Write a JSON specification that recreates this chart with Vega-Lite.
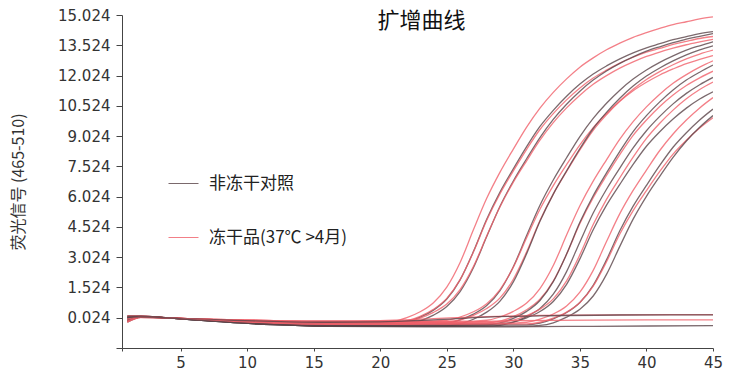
{
"$schema": "https://vega.github.io/schema/vega-lite/v6.json",
"width": 591, "height": 333,
"autosize": {"type": "none"},
"padding": {"left": 122, "top": 15, "right": 18, "bottom": 26},
"background": "white",
"title": {"text": "扩增曲线", "font": "Noto Sans CJK SC", "fontSize": 22, "fontWeight": "normal", "color": "#111", "anchor": "middle", "offset": -25, "dx": 4},
"data": {"values": [
{"id":"A1","g":"f","c":1,"v":-0.15},{"id":"A1","g":"f","c":2,"v":0.06},{"id":"A1","g":"f","c":4,"v":0.02},{"id":"A1","g":"f","c":6,"v":-0.04},{"id":"A1","g":"f","c":9,"v":-0.11},{"id":"A1","g":"f","c":12,"v":-0.16},{"id":"A1","g":"f","c":16,"v":-0.2},{"id":"A1","g":"f","c":20,"v":-0.19},{"id":"A1","g":"f","c":21,"v":-0.15},{"id":"A1","g":"f","c":22,"v":0.03},{"id":"A1","g":"f","c":23,"v":0.32},{"id":"A1","g":"f","c":24,"v":0.77},{"id":"A1","g":"f","c":25,"v":1.54},{"id":"A1","g":"f","c":26,"v":2.76},{"id":"A1","g":"f","c":27,"v":4.38},{"id":"A1","g":"f","c":28,"v":5.94},{"id":"A1","g":"f","c":29,"v":7.24},{"id":"A1","g":"f","c":30,"v":8.38},{"id":"A1","g":"f","c":31,"v":9.47},{"id":"A1","g":"f","c":32,"v":10.41},{"id":"A1","g":"f","c":33,"v":11.19},{"id":"A1","g":"f","c":34,"v":11.86},{"id":"A1","g":"f","c":35,"v":12.44},{"id":"A1","g":"f","c":36,"v":12.9},{"id":"A1","g":"f","c":37,"v":13.3},{"id":"A1","g":"f","c":38,"v":13.63},{"id":"A1","g":"f","c":39,"v":13.92},{"id":"A1","g":"f","c":40,"v":14.15},{"id":"A1","g":"f","c":41,"v":14.36},{"id":"A1","g":"f","c":42,"v":14.55},{"id":"A1","g":"f","c":43,"v":14.69},{"id":"A1","g":"f","c":44,"v":14.83},{"id":"A1","g":"f","c":45,"v":14.93},
{"id":"A2","g":"n","c":1,"v":0.1},{"id":"A2","g":"n","c":2,"v":0.1},{"id":"A2","g":"n","c":4,"v":0.02},{"id":"A2","g":"n","c":6,"v":-0.06},{"id":"A2","g":"n","c":9,"v":-0.17},{"id":"A2","g":"n","c":12,"v":-0.24},{"id":"A2","g":"n","c":16,"v":-0.3},{"id":"A2","g":"n","c":20,"v":-0.3},{"id":"A2","g":"n","c":21,"v":-0.28},{"id":"A2","g":"n","c":22,"v":-0.18},{"id":"A2","g":"n","c":23,"v":0.05},{"id":"A2","g":"n","c":24,"v":0.4},{"id":"A2","g":"n","c":25,"v":0.95},{"id":"A2","g":"n","c":26,"v":1.9},{"id":"A2","g":"n","c":27,"v":3.3},{"id":"A2","g":"n","c":28,"v":4.9},{"id":"A2","g":"n","c":29,"v":6.25},{"id":"A2","g":"n","c":30,"v":7.4},{"id":"A2","g":"n","c":31,"v":8.5},{"id":"A2","g":"n","c":32,"v":9.5},{"id":"A2","g":"n","c":33,"v":10.3},{"id":"A2","g":"n","c":34,"v":11.0},{"id":"A2","g":"n","c":35,"v":11.6},{"id":"A2","g":"n","c":36,"v":12.1},{"id":"A2","g":"n","c":37,"v":12.5},{"id":"A2","g":"n","c":38,"v":12.85},{"id":"A2","g":"n","c":39,"v":13.15},{"id":"A2","g":"n","c":40,"v":13.4},{"id":"A2","g":"n","c":41,"v":13.6},{"id":"A2","g":"n","c":42,"v":13.8},{"id":"A2","g":"n","c":43,"v":13.95},{"id":"A2","g":"n","c":44,"v":14.1},{"id":"A2","g":"n","c":45,"v":14.2},
{"id":"A3","g":"f","c":1,"v":-0.05},{"id":"A3","g":"f","c":2,"v":0.08},{"id":"A3","g":"f","c":4,"v":0.02},{"id":"A3","g":"f","c":6,"v":-0.05},{"id":"A3","g":"f","c":9,"v":-0.14},{"id":"A3","g":"f","c":12,"v":-0.2},{"id":"A3","g":"f","c":16,"v":-0.25},{"id":"A3","g":"f","c":20,"v":-0.25},{"id":"A3","g":"f","c":21,"v":-0.23},{"id":"A3","g":"f","c":22,"v":-0.13},{"id":"A3","g":"f","c":23,"v":0.09},{"id":"A3","g":"f","c":24,"v":0.44},{"id":"A3","g":"f","c":25,"v":0.98},{"id":"A3","g":"f","c":26,"v":1.91},{"id":"A3","g":"f","c":27,"v":3.28},{"id":"A3","g":"f","c":28,"v":4.85},{"id":"A3","g":"f","c":29,"v":6.17},{"id":"A3","g":"f","c":30,"v":7.3},{"id":"A3","g":"f","c":31,"v":8.37},{"id":"A3","g":"f","c":32,"v":9.35},{"id":"A3","g":"f","c":33,"v":10.14},{"id":"A3","g":"f","c":34,"v":10.82},{"id":"A3","g":"f","c":35,"v":11.41},{"id":"A3","g":"f","c":36,"v":11.9},{"id":"A3","g":"f","c":37,"v":12.29},{"id":"A3","g":"f","c":38,"v":12.64},{"id":"A3","g":"f","c":39,"v":12.93},{"id":"A3","g":"f","c":40,"v":13.18},{"id":"A3","g":"f","c":41,"v":13.37},{"id":"A3","g":"f","c":42,"v":13.57},{"id":"A3","g":"f","c":43,"v":13.72},{"id":"A3","g":"f","c":44,"v":13.86},{"id":"A3","g":"f","c":45,"v":13.96},
{"id":"A4","g":"n","c":1,"v":-0.2},{"id":"A4","g":"n","c":2,"v":0.04},{"id":"A4","g":"n","c":4,"v":0.02},{"id":"A4","g":"n","c":6,"v":-0.07},{"id":"A4","g":"n","c":9,"v":-0.19},{"id":"A4","g":"n","c":12,"v":-0.28},{"id":"A4","g":"n","c":16,"v":-0.35},{"id":"A4","g":"n","c":20,"v":-0.35},{"id":"A4","g":"n","c":21,"v":-0.34},{"id":"A4","g":"n","c":22,"v":-0.3},{"id":"A4","g":"n","c":23,"v":-0.13},{"id":"A4","g":"n","c":24,"v":0.15},{"id":"A4","g":"n","c":25,"v":0.58},{"id":"A4","g":"n","c":26,"v":1.32},{"id":"A4","g":"n","c":27,"v":2.5},{"id":"A4","g":"n","c":28,"v":4.05},{"id":"A4","g":"n","c":29,"v":5.55},{"id":"A4","g":"n","c":30,"v":6.8},{"id":"A4","g":"n","c":31,"v":7.9},{"id":"A4","g":"n","c":32,"v":8.95},{"id":"A4","g":"n","c":33,"v":9.85},{"id":"A4","g":"n","c":34,"v":10.6},{"id":"A4","g":"n","c":35,"v":11.25},{"id":"A4","g":"n","c":36,"v":11.8},{"id":"A4","g":"n","c":37,"v":12.25},{"id":"A4","g":"n","c":38,"v":12.63},{"id":"A4","g":"n","c":39,"v":12.95},{"id":"A4","g":"n","c":40,"v":13.23},{"id":"A4","g":"n","c":41,"v":13.45},{"id":"A4","g":"n","c":42,"v":13.65},{"id":"A4","g":"n","c":43,"v":13.83},{"id":"A4","g":"n","c":44,"v":13.97},{"id":"A4","g":"n","c":45,"v":14.1},
{"id":"A5","g":"f","c":1,"v":0.05},{"id":"A5","g":"f","c":2,"v":0.09},{"id":"A5","g":"f","c":4,"v":0.02},{"id":"A5","g":"f","c":6,"v":-0.04},{"id":"A5","g":"f","c":9,"v":-0.11},{"id":"A5","g":"f","c":12,"v":-0.16},{"id":"A5","g":"f","c":16,"v":-0.2},{"id":"A5","g":"f","c":20,"v":-0.2},{"id":"A5","g":"f","c":21,"v":-0.19},{"id":"A5","g":"f","c":22,"v":-0.15},{"id":"A5","g":"f","c":23,"v":0.01},{"id":"A5","g":"f","c":24,"v":0.29},{"id":"A5","g":"f","c":25,"v":0.7},{"id":"A5","g":"f","c":26,"v":1.42},{"id":"A5","g":"f","c":27,"v":2.56},{"id":"A5","g":"f","c":28,"v":4.07},{"id":"A5","g":"f","c":29,"v":5.52},{"id":"A5","g":"f","c":30,"v":6.74},{"id":"A5","g":"f","c":31,"v":7.8},{"id":"A5","g":"f","c":32,"v":8.82},{"id":"A5","g":"f","c":33,"v":9.69},{"id":"A5","g":"f","c":34,"v":10.42},{"id":"A5","g":"f","c":35,"v":11.05},{"id":"A5","g":"f","c":36,"v":11.59},{"id":"A5","g":"f","c":37,"v":12.02},{"id":"A5","g":"f","c":38,"v":12.39},{"id":"A5","g":"f","c":39,"v":12.7},{"id":"A5","g":"f","c":40,"v":12.97},{"id":"A5","g":"f","c":41,"v":13.19},{"id":"A5","g":"f","c":42,"v":13.38},{"id":"A5","g":"f","c":43,"v":13.55},{"id":"A5","g":"f","c":44,"v":13.69},{"id":"A5","g":"f","c":45,"v":13.82},
{"id":"B1","g":"n","c":1,"v":-0.1},{"id":"B1","g":"n","c":2,"v":0.07},{"id":"B1","g":"n","c":4,"v":0.02},{"id":"B1","g":"n","c":6,"v":-0.06},{"id":"B1","g":"n","c":9,"v":-0.17},{"id":"B1","g":"n","c":12,"v":-0.24},{"id":"B1","g":"n","c":16,"v":-0.3},{"id":"B1","g":"n","c":20,"v":-0.3},{"id":"B1","g":"n","c":24,"v":-0.29},{"id":"B1","g":"n","c":25,"v":-0.25},{"id":"B1","g":"n","c":26,"v":-0.08},{"id":"B1","g":"n","c":27,"v":0.2},{"id":"B1","g":"n","c":28,"v":0.63},{"id":"B1","g":"n","c":29,"v":1.37},{"id":"B1","g":"n","c":30,"v":2.55},{"id":"B1","g":"n","c":31,"v":4.1},{"id":"B1","g":"n","c":32,"v":5.6},{"id":"B1","g":"n","c":33,"v":6.85},{"id":"B1","g":"n","c":34,"v":7.95},{"id":"B1","g":"n","c":35,"v":9.0},{"id":"B1","g":"n","c":36,"v":9.9},{"id":"B1","g":"n","c":37,"v":10.65},{"id":"B1","g":"n","c":38,"v":11.3},{"id":"B1","g":"n","c":39,"v":11.85},{"id":"B1","g":"n","c":40,"v":12.3},{"id":"B1","g":"n","c":41,"v":12.68},{"id":"B1","g":"n","c":42,"v":13.0},{"id":"B1","g":"n","c":43,"v":13.28},{"id":"B1","g":"n","c":44,"v":13.5},{"id":"B1","g":"n","c":45,"v":13.7},
{"id":"B2","g":"f","c":1,"v":0.12},{"id":"B2","g":"f","c":2,"v":0.1},{"id":"B2","g":"f","c":4,"v":0.02},{"id":"B2","g":"f","c":6,"v":-0.04},{"id":"B2","g":"f","c":9,"v":-0.11},{"id":"B2","g":"f","c":12,"v":-0.16},{"id":"B2","g":"f","c":16,"v":-0.2},{"id":"B2","g":"f","c":20,"v":-0.2},{"id":"B2","g":"f","c":24,"v":-0.2},{"id":"B2","g":"f","c":25,"v":-0.18},{"id":"B2","g":"f","c":26,"v":-0.08},{"id":"B2","g":"f","c":27,"v":0.14},{"id":"B2","g":"f","c":28,"v":0.48},{"id":"B2","g":"f","c":29,"v":1.01},{"id":"B2","g":"f","c":30,"v":1.93},{"id":"B2","g":"f","c":31,"v":3.29},{"id":"B2","g":"f","c":32,"v":4.84},{"id":"B2","g":"f","c":33,"v":6.15},{"id":"B2","g":"f","c":34,"v":7.27},{"id":"B2","g":"f","c":35,"v":8.34},{"id":"B2","g":"f","c":36,"v":9.31},{"id":"B2","g":"f","c":37,"v":10.08},{"id":"B2","g":"f","c":38,"v":10.76},{"id":"B2","g":"f","c":39,"v":11.34},{"id":"B2","g":"f","c":40,"v":11.83},{"id":"B2","g":"f","c":41,"v":12.22},{"id":"B2","g":"f","c":42,"v":12.56},{"id":"B2","g":"f","c":43,"v":12.85},{"id":"B2","g":"f","c":44,"v":13.09},{"id":"B2","g":"f","c":45,"v":13.28},
{"id":"B3","g":"f","c":1,"v":-0.12},{"id":"B3","g":"f","c":2,"v":0.05},{"id":"B3","g":"f","c":4,"v":0.02},{"id":"B3","g":"f","c":6,"v":-0.03},{"id":"B3","g":"f","c":9,"v":-0.08},{"id":"B3","g":"f","c":12,"v":-0.12},{"id":"B3","g":"f","c":16,"v":-0.15},{"id":"B3","g":"f","c":20,"v":-0.15},{"id":"B3","g":"f","c":24,"v":-0.14},{"id":"B3","g":"f","c":25,"v":-0.1},{"id":"B3","g":"f","c":26,"v":0.06},{"id":"B3","g":"f","c":27,"v":0.32},{"id":"B3","g":"f","c":28,"v":0.72},{"id":"B3","g":"f","c":29,"v":1.42},{"id":"B3","g":"f","c":30,"v":2.53},{"id":"B3","g":"f","c":31,"v":3.99},{"id":"B3","g":"f","c":32,"v":5.4},{"id":"B3","g":"f","c":33,"v":6.57},{"id":"B3","g":"f","c":34,"v":7.61},{"id":"B3","g":"f","c":35,"v":8.59},{"id":"B3","g":"f","c":36,"v":9.44},{"id":"B3","g":"f","c":37,"v":10.14},{"id":"B3","g":"f","c":38,"v":10.75},{"id":"B3","g":"f","c":39,"v":11.27},{"id":"B3","g":"f","c":40,"v":11.69},{"id":"B3","g":"f","c":41,"v":12.05},{"id":"B3","g":"f","c":42,"v":12.35},{"id":"B3","g":"f","c":43,"v":12.62},{"id":"B3","g":"f","c":44,"v":12.82},{"id":"B3","g":"f","c":45,"v":13.01},
{"id":"B4","g":"n","c":1,"v":0.0},{"id":"B4","g":"n","c":2,"v":0.06},{"id":"B4","g":"n","c":4,"v":0.02},{"id":"B4","g":"n","c":6,"v":-0.08},{"id":"B4","g":"n","c":9,"v":-0.22},{"id":"B4","g":"n","c":12,"v":-0.32},{"id":"B4","g":"n","c":16,"v":-0.4},{"id":"B4","g":"n","c":20,"v":-0.4},{"id":"B4","g":"n","c":24,"v":-0.4},{"id":"B4","g":"n","c":25,"v":-0.38},{"id":"B4","g":"n","c":26,"v":-0.28},{"id":"B4","g":"n","c":27,"v":-0.05},{"id":"B4","g":"n","c":28,"v":0.3},{"id":"B4","g":"n","c":29,"v":0.85},{"id":"B4","g":"n","c":30,"v":1.8},{"id":"B4","g":"n","c":31,"v":3.2},{"id":"B4","g":"n","c":32,"v":4.8},{"id":"B4","g":"n","c":33,"v":6.15},{"id":"B4","g":"n","c":34,"v":7.3},{"id":"B4","g":"n","c":35,"v":8.4},{"id":"B4","g":"n","c":36,"v":9.4},{"id":"B4","g":"n","c":37,"v":10.2},{"id":"B4","g":"n","c":38,"v":10.9},{"id":"B4","g":"n","c":39,"v":11.5},{"id":"B4","g":"n","c":40,"v":12.0},{"id":"B4","g":"n","c":41,"v":12.4},{"id":"B4","g":"n","c":42,"v":12.75},{"id":"B4","g":"n","c":43,"v":13.05},{"id":"B4","g":"n","c":44,"v":13.3},{"id":"B4","g":"n","c":45,"v":13.5},
{"id":"C1","g":"f","c":1,"v":0.08},{"id":"C1","g":"f","c":2,"v":0.1},{"id":"C1","g":"f","c":4,"v":0.02},{"id":"C1","g":"f","c":6,"v":-0.03},{"id":"C1","g":"f","c":9,"v":-0.08},{"id":"C1","g":"f","c":12,"v":-0.12},{"id":"C1","g":"f","c":16,"v":-0.15},{"id":"C1","g":"f","c":20,"v":-0.15},{"id":"C1","g":"f","c":24,"v":-0.15},{"id":"C1","g":"f","c":27,"v":-0.14},{"id":"C1","g":"f","c":28,"v":-0.1},{"id":"C1","g":"f","c":29,"v":0.06},{"id":"C1","g":"f","c":30,"v":0.34},{"id":"C1","g":"f","c":31,"v":0.75},{"id":"C1","g":"f","c":32,"v":1.47},{"id":"C1","g":"f","c":33,"v":2.61},{"id":"C1","g":"f","c":34,"v":4.12},{"id":"C1","g":"f","c":35,"v":5.57},{"id":"C1","g":"f","c":36,"v":6.79},{"id":"C1","g":"f","c":37,"v":7.85},{"id":"C1","g":"f","c":38,"v":8.87},{"id":"C1","g":"f","c":39,"v":9.74},{"id":"C1","g":"f","c":40,"v":10.47},{"id":"C1","g":"f","c":41,"v":11.1},{"id":"C1","g":"f","c":42,"v":11.64},{"id":"C1","g":"f","c":43,"v":12.07},{"id":"C1","g":"f","c":44,"v":12.44},{"id":"C1","g":"f","c":45,"v":12.75},
{"id":"C2","g":"f","c":1,"v":-0.18},{"id":"C2","g":"f","c":2,"v":0.04},{"id":"C2","g":"f","c":4,"v":0.02},{"id":"C2","g":"f","c":6,"v":-0.05},{"id":"C2","g":"f","c":9,"v":-0.14},{"id":"C2","g":"f","c":12,"v":-0.2},{"id":"C2","g":"f","c":16,"v":-0.25},{"id":"C2","g":"f","c":20,"v":-0.25},{"id":"C2","g":"f","c":24,"v":-0.25},{"id":"C2","g":"f","c":28,"v":-0.23},{"id":"C2","g":"f","c":29,"v":-0.14},{"id":"C2","g":"f","c":30,"v":0.08},{"id":"C2","g":"f","c":31,"v":0.42},{"id":"C2","g":"f","c":32,"v":0.94},{"id":"C2","g":"f","c":33,"v":1.84},{"id":"C2","g":"f","c":34,"v":3.17},{"id":"C2","g":"f","c":35,"v":4.69},{"id":"C2","g":"f","c":36,"v":5.97},{"id":"C2","g":"f","c":37,"v":7.07},{"id":"C2","g":"f","c":38,"v":8.11},{"id":"C2","g":"f","c":39,"v":9.06},{"id":"C2","g":"f","c":40,"v":9.82},{"id":"C2","g":"f","c":41,"v":10.49},{"id":"C2","g":"f","c":42,"v":11.06},{"id":"C2","g":"f","c":43,"v":11.53},{"id":"C2","g":"f","c":44,"v":11.91},{"id":"C2","g":"f","c":45,"v":12.24},
{"id":"C3","g":"n","c":1,"v":0.05},{"id":"C3","g":"n","c":2,"v":0.08},{"id":"C3","g":"n","c":4,"v":0.02},{"id":"C3","g":"n","c":6,"v":-0.07},{"id":"C3","g":"n","c":9,"v":-0.19},{"id":"C3","g":"n","c":12,"v":-0.28},{"id":"C3","g":"n","c":16,"v":-0.35},{"id":"C3","g":"n","c":20,"v":-0.35},{"id":"C3","g":"n","c":24,"v":-0.35},{"id":"C3","g":"n","c":28,"v":-0.33},{"id":"C3","g":"n","c":29,"v":-0.23},{"id":"C3","g":"n","c":30,"v":-0.01},{"id":"C3","g":"n","c":31,"v":0.34},{"id":"C3","g":"n","c":32,"v":0.88},{"id":"C3","g":"n","c":33,"v":1.81},{"id":"C3","g":"n","c":34,"v":3.18},{"id":"C3","g":"n","c":35,"v":4.75},{"id":"C3","g":"n","c":36,"v":6.07},{"id":"C3","g":"n","c":37,"v":7.2},{"id":"C3","g":"n","c":38,"v":8.27},{"id":"C3","g":"n","c":39,"v":9.25},{"id":"C3","g":"n","c":40,"v":10.04},{"id":"C3","g":"n","c":41,"v":10.72},{"id":"C3","g":"n","c":42,"v":11.31},{"id":"C3","g":"n","c":43,"v":11.8},{"id":"C3","g":"n","c":44,"v":12.19},{"id":"C3","g":"n","c":45,"v":12.54},
{"id":"C4","g":"n","c":1,"v":-0.15},{"id":"C4","g":"n","c":2,"v":0.05},{"id":"C4","g":"n","c":4,"v":0.02},{"id":"C4","g":"n","c":6,"v":-0.08},{"id":"C4","g":"n","c":9,"v":-0.22},{"id":"C4","g":"n","c":12,"v":-0.32},{"id":"C4","g":"n","c":16,"v":-0.4},{"id":"C4","g":"n","c":20,"v":-0.4},{"id":"C4","g":"n","c":24,"v":-0.4},{"id":"C4","g":"n","c":28,"v":-0.39},{"id":"C4","g":"n","c":29,"v":-0.35},{"id":"C4","g":"n","c":30,"v":-0.19},{"id":"C4","g":"n","c":31,"v":0.08},{"id":"C4","g":"n","c":32,"v":0.48},{"id":"C4","g":"n","c":33,"v":1.19},{"id":"C4","g":"n","c":34,"v":2.31},{"id":"C4","g":"n","c":35,"v":3.78},{"id":"C4","g":"n","c":36,"v":5.21},{"id":"C4","g":"n","c":37,"v":6.39},{"id":"C4","g":"n","c":38,"v":7.44},{"id":"C4","g":"n","c":39,"v":8.44},{"id":"C4","g":"n","c":40,"v":9.29},{"id":"C4","g":"n","c":41,"v":10.0},{"id":"C4","g":"n","c":42,"v":10.62},{"id":"C4","g":"n","c":43,"v":11.14},{"id":"C4","g":"n","c":44,"v":11.57},{"id":"C4","g":"n","c":45,"v":11.93},
{"id":"C5","g":"f","c":1,"v":-0.08},{"id":"C5","g":"f","c":2,"v":0.07},{"id":"C5","g":"f","c":4,"v":0.02},{"id":"C5","g":"f","c":6,"v":-0.04},{"id":"C5","g":"f","c":9,"v":-0.11},{"id":"C5","g":"f","c":12,"v":-0.16},{"id":"C5","g":"f","c":16,"v":-0.2},{"id":"C5","g":"f","c":20,"v":-0.2},{"id":"C5","g":"f","c":24,"v":-0.2},{"id":"C5","g":"f","c":29,"v":-0.18},{"id":"C5","g":"f","c":30,"v":-0.09},{"id":"C5","g":"f","c":31,"v":0.13},{"id":"C5","g":"f","c":32,"v":0.45},{"id":"C5","g":"f","c":33,"v":0.96},{"id":"C5","g":"f","c":34,"v":1.85},{"id":"C5","g":"f","c":35,"v":3.15},{"id":"C5","g":"f","c":36,"v":4.64},{"id":"C5","g":"f","c":37,"v":5.89},{"id":"C5","g":"f","c":38,"v":6.96},{"id":"C5","g":"f","c":39,"v":7.98},{"id":"C5","g":"f","c":40,"v":8.91},{"id":"C5","g":"f","c":41,"v":9.66},{"id":"C5","g":"f","c":42,"v":10.31},{"id":"C5","g":"f","c":43,"v":10.87},{"id":"C5","g":"f","c":44,"v":11.33},{"id":"C5","g":"f","c":45,"v":11.7},
{"id":"C6","g":"n","c":1,"v":0.02},{"id":"C6","g":"n","c":2,"v":0.09},{"id":"C6","g":"n","c":4,"v":0.02},{"id":"C6","g":"n","c":6,"v":-0.06},{"id":"C6","g":"n","c":9,"v":-0.17},{"id":"C6","g":"n","c":12,"v":-0.24},{"id":"C6","g":"n","c":16,"v":-0.3},{"id":"C6","g":"n","c":20,"v":-0.3},{"id":"C6","g":"n","c":24,"v":-0.3},{"id":"C6","g":"n","c":29,"v":-0.28},{"id":"C6","g":"n","c":30,"v":-0.19},{"id":"C6","g":"n","c":31,"v":0.02},{"id":"C6","g":"n","c":32,"v":0.33},{"id":"C6","g":"n","c":33,"v":0.83},{"id":"C6","g":"n","c":34,"v":1.68},{"id":"C6","g":"n","c":35,"v":2.94},{"id":"C6","g":"n","c":36,"v":4.38},{"id":"C6","g":"n","c":37,"v":5.6},{"id":"C6","g":"n","c":38,"v":6.63},{"id":"C6","g":"n","c":39,"v":7.62},{"id":"C6","g":"n","c":40,"v":8.52},{"id":"C6","g":"n","c":41,"v":9.24},{"id":"C6","g":"n","c":42,"v":9.87},{"id":"C6","g":"n","c":43,"v":10.41},{"id":"C6","g":"n","c":44,"v":10.86},{"id":"C6","g":"n","c":45,"v":11.22},
{"id":"D1","g":"f","c":1,"v":0.1},{"id":"D1","g":"f","c":2,"v":0.1},{"id":"D1","g":"f","c":4,"v":0.02},{"id":"D1","g":"f","c":6,"v":-0.05},{"id":"D1","g":"f","c":9,"v":-0.14},{"id":"D1","g":"f","c":12,"v":-0.2},{"id":"D1","g":"f","c":16,"v":-0.25},{"id":"D1","g":"f","c":20,"v":-0.25},{"id":"D1","g":"f","c":25,"v":-0.25},{"id":"D1","g":"f","c":30,"v":-0.24},{"id":"D1","g":"f","c":31,"v":-0.2},{"id":"D1","g":"f","c":32,"v":-0.05},{"id":"D1","g":"f","c":33,"v":0.21},{"id":"D1","g":"f","c":34,"v":0.61},{"id":"D1","g":"f","c":35,"v":1.29},{"id":"D1","g":"f","c":36,"v":2.37},{"id":"D1","g":"f","c":37,"v":3.8},{"id":"D1","g":"f","c":38,"v":5.18},{"id":"D1","g":"f","c":39,"v":6.33},{"id":"D1","g":"f","c":40,"v":7.34},{"id":"D1","g":"f","c":41,"v":8.31},{"id":"D1","g":"f","c":42,"v":9.13},{"id":"D1","g":"f","c":43,"v":9.82},{"id":"D1","g":"f","c":44,"v":10.42},{"id":"D1","g":"f","c":45,"v":10.93},
{"id":"D2","g":"n","c":1,"v":-0.1},{"id":"D2","g":"n","c":2,"v":0.06},{"id":"D2","g":"n","c":4,"v":0.02},{"id":"D2","g":"n","c":6,"v":-0.07},{"id":"D2","g":"n","c":9,"v":-0.19},{"id":"D2","g":"n","c":12,"v":-0.28},{"id":"D2","g":"n","c":16,"v":-0.35},{"id":"D2","g":"n","c":20,"v":-0.35},{"id":"D2","g":"n","c":25,"v":-0.35},{"id":"D2","g":"n","c":31,"v":-0.33},{"id":"D2","g":"n","c":32,"v":-0.24},{"id":"D2","g":"n","c":33,"v":-0.03},{"id":"D2","g":"n","c":34,"v":0.28},{"id":"D2","g":"n","c":35,"v":0.78},{"id":"D2","g":"n","c":36,"v":1.63},{"id":"D2","g":"n","c":37,"v":2.89},{"id":"D2","g":"n","c":38,"v":4.33},{"id":"D2","g":"n","c":39,"v":5.55},{"id":"D2","g":"n","c":40,"v":6.58},{"id":"D2","g":"n","c":41,"v":7.57},{"id":"D2","g":"n","c":42,"v":8.47},{"id":"D2","g":"n","c":43,"v":9.19},{"id":"D2","g":"n","c":44,"v":9.82},{"id":"D2","g":"n","c":45,"v":10.36},
{"id":"D3","g":"f","c":1,"v":-0.2},{"id":"D3","g":"f","c":2,"v":0.03},{"id":"D3","g":"f","c":4,"v":0.02},{"id":"D3","g":"f","c":6,"v":-0.06},{"id":"D3","g":"f","c":9,"v":-0.17},{"id":"D3","g":"f","c":12,"v":-0.24},{"id":"D3","g":"f","c":16,"v":-0.3},{"id":"D3","g":"f","c":20,"v":-0.3},{"id":"D3","g":"f","c":25,"v":-0.3},{"id":"D3","g":"f","c":31,"v":-0.28},{"id":"D3","g":"f","c":32,"v":-0.2},{"id":"D3","g":"f","c":33,"v":0.0},{"id":"D3","g":"f","c":34,"v":0.3},{"id":"D3","g":"f","c":35,"v":0.78},{"id":"D3","g":"f","c":36,"v":1.59},{"id":"D3","g":"f","c":37,"v":2.8},{"id":"D3","g":"f","c":38,"v":4.17},{"id":"D3","g":"f","c":39,"v":5.33},{"id":"D3","g":"f","c":40,"v":6.32},{"id":"D3","g":"f","c":41,"v":7.27},{"id":"D3","g":"f","c":42,"v":8.13},{"id":"D3","g":"f","c":43,"v":8.82},{"id":"D3","g":"f","c":44,"v":9.42},{"id":"D3","g":"f","c":45,"v":9.93},
{"id":"D4","g":"n","c":1,"v":0.0},{"id":"D4","g":"n","c":2,"v":0.08},{"id":"D4","g":"n","c":4,"v":0.02},{"id":"D4","g":"n","c":6,"v":-0.08},{"id":"D4","g":"n","c":9,"v":-0.22},{"id":"D4","g":"n","c":12,"v":-0.32},{"id":"D4","g":"n","c":16,"v":-0.4},{"id":"D4","g":"n","c":20,"v":-0.4},{"id":"D4","g":"n","c":25,"v":-0.4},{"id":"D4","g":"n","c":31,"v":-0.39},{"id":"D4","g":"n","c":32,"v":-0.36},{"id":"D4","g":"n","c":33,"v":-0.23},{"id":"D4","g":"n","c":34,"v":0.05},{"id":"D4","g":"n","c":35,"v":0.44},{"id":"D4","g":"n","c":36,"v":1.1},{"id":"D4","g":"n","c":37,"v":2.17},{"id":"D4","g":"n","c":38,"v":3.56},{"id":"D4","g":"n","c":39,"v":4.91},{"id":"D4","g":"n","c":40,"v":6.04},{"id":"D4","g":"n","c":41,"v":7.03},{"id":"D4","g":"n","c":42,"v":7.97},{"id":"D4","g":"n","c":43,"v":8.78},{"id":"D4","g":"n","c":44,"v":9.46},{"id":"D4","g":"n","c":45,"v":10.04},
{"id":"F1","g":"f","c":1,"v":-0.05},{"id":"F1","g":"f","c":2,"v":0.08},{"id":"F1","g":"f","c":4,"v":0.02},{"id":"F1","g":"f","c":6,"v":-0.03},{"id":"F1","g":"f","c":9,"v":-0.08},{"id":"F1","g":"f","c":12,"v":-0.12},{"id":"F1","g":"f","c":16,"v":-0.15},{"id":"F1","g":"f","c":20,"v":-0.12},{"id":"F1","g":"f","c":24,"v":-0.02},{"id":"F1","g":"f","c":28,"v":0.08},{"id":"F1","g":"f","c":32,"v":0.14},{"id":"F1","g":"f","c":38,"v":0.17},{"id":"F1","g":"f","c":45,"v":0.18},
{"id":"F2","g":"n","c":1,"v":0.1},{"id":"F2","g":"n","c":2,"v":0.1},{"id":"F2","g":"n","c":4,"v":0.02},{"id":"F2","g":"n","c":6,"v":-0.04},{"id":"F2","g":"n","c":9,"v":-0.11},{"id":"F2","g":"n","c":12,"v":-0.16},{"id":"F2","g":"n","c":16,"v":-0.2},{"id":"F2","g":"n","c":20,"v":-0.18},{"id":"F2","g":"n","c":24,"v":-0.08},{"id":"F2","g":"n","c":28,"v":0.05},{"id":"F2","g":"n","c":32,"v":0.12},{"id":"F2","g":"n","c":38,"v":0.16},{"id":"F2","g":"n","c":45,"v":0.17},
{"id":"F3","g":"f","c":1,"v":-0.15},{"id":"F3","g":"f","c":2,"v":0.05},{"id":"F3","g":"f","c":4,"v":0.02},{"id":"F3","g":"f","c":6,"v":-0.06},{"id":"F3","g":"f","c":9,"v":-0.17},{"id":"F3","g":"f","c":12,"v":-0.24},{"id":"F3","g":"f","c":16,"v":-0.3},{"id":"F3","g":"f","c":20,"v":-0.3},{"id":"F3","g":"f","c":25,"v":-0.22},{"id":"F3","g":"f","c":30,"v":-0.12},{"id":"F3","g":"f","c":36,"v":-0.09},{"id":"F3","g":"f","c":45,"v":-0.08},
{"id":"F4","g":"n","c":1,"v":0.05},{"id":"F4","g":"n","c":2,"v":0.07},{"id":"F4","g":"n","c":4,"v":0.02},{"id":"F4","g":"n","c":6,"v":-0.08},{"id":"F4","g":"n","c":9,"v":-0.22},{"id":"F4","g":"n","c":12,"v":-0.32},{"id":"F4","g":"n","c":16,"v":-0.4},{"id":"F4","g":"n","c":20,"v":-0.42},{"id":"F4","g":"n","c":28,"v":-0.43},{"id":"F4","g":"n","c":36,"v":-0.4},{"id":"F4","g":"n","c":45,"v":-0.37}
]},
"mark": {"type": "line", "interpolate": "monotone", "strokeWidth": 1.3, "opacity": 0.8, "clip": true},
"encoding": {
  "x": {"field": "c", "type": "quantitative",
        "scale": {"domain": [0.6, 45], "nice": false, "zero": false},
        "axis": {"title": null, "values": [0.6, 5, 10, 15, 20, 25, 30, 35, 40, 45], "labelExpr": "datum.value < 1 ? '' : format(datum.value, 'd')", "grid": false, "tickSize": 3, "labelPadding": 4, "labelFont": "DejaVu Sans", "labelFontSize": 15, "labelColor": "#333", "domainColor": "#444", "tickColor": "#444", "labelFlush": false, "labelOverlap": false}},
  "y": {"field": "v", "type": "quantitative",
        "scale": {"domain": [-1.476, 15.024], "nice": false, "zero": false},
        "axis": {"title": "荧光信号 (465-510)", "values": [-1.476, 0.024, 1.524, 3.024, 4.524, 6.024, 7.524, 9.024, 10.524, 12.024, 13.524, 15.024], "labelExpr": "datum.value < -1 ? '' : format(datum.value, '.3f')", "grid": false, "tickSize": 6, "labelPadding": 6, "labelFont": "DejaVu Sans", "labelFontSize": 15, "labelColor": "#333", "domainColor": "#444", "tickColor": "#444", "labelFlush": false, "labelOverlap": false, "titleFont": "Noto Sans CJK SC", "titleFontSize": 16, "titleFontWeight": "normal", "titleColor": "#333", "titlePadding": 31}},
  "color": {"field": "g", "type": "nominal",
        "scale": {"domain": ["n", "f"], "range": ["#5a4448", "#f0606a"]},
        "legend": {"title": null, "orient": "none", "legendX": 46, "legendY": 153, "symbolType": "stroke", "symbolSize": 900, "symbolStrokeWidth": 1, "labelFont": "Noto Sans CJK SC", "labelFontSize": 17, "labelColor": "#222", "labelOffset": 10, "rowPadding": 30, "labelExpr": "datum.value == 'n' ? '非冻干对照' : '冻干品(37℃ >4月)'"}},
  "detail": {"field": "id"}
},
"config": {"view": {"stroke": null}}
}
